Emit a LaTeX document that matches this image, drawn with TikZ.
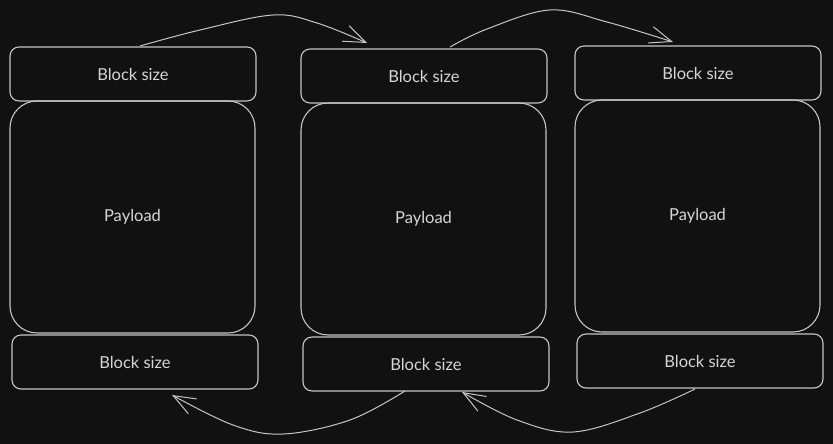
\documentclass[tikz,border=0pt]{standalone}
\usepackage{fontspec}
\setmainfont{Lato}
\usetikzlibrary{arrows.meta}
\definecolor{bg}{HTML}{111111}
\definecolor{ln}{HTML}{C6C6C6}
\definecolor{tx}{HTML}{D6D6D6}
\begin{document}
\begin{tikzpicture}[x=1pt,y=-1pt,
  txt/.style={text=tx, font=\fontsize{16.5}{19}\selectfont},
  blk/.style={draw=ln, line width=1.1pt, rounded corners=9pt, minimum width=246pt, minimum height=54pt, inner sep=0pt, txt},
  pay/.style={draw=ln, line width=1.1pt, rounded corners=27pt, minimum width=245pt, minimum height=232pt, inner sep=0pt, txt},
  conn/.style={draw=ln, line width=1pt, -{Straight Barb[length=22pt,width=17pt,line width=1pt]}}
]
\fill[bg] (0,0) rectangle (833,444);
\useasboundingbox (0,0) rectangle (833,444);

\node[pay] (p1) at (132.5,217) {Payload};
\node[blk] (t1) at (133,74) {Block size};
\node[blk] (b1) at (135,362) {Block size};

\node[pay] (p2) at (423.5,219) {Payload};
\node[blk] (t2) at (424,76) {Block size};
\node[blk] (b2) at (426,364) {Block size};

\node[pay] (p3) at (697.5,216) {Payload};
\node[blk] (t3) at (698,73) {Block size};
\node[blk] (b3) at (700,361) {Block size};

% top arrow 1
\coordinate (a1s) at (140,46);
\coordinate (a1e) at (367,43);
\draw[conn] plot[smooth, tension=0.6] coordinates {(a1s) (200,30) (273,15) (317,23) (a1e)};
% top arrow 2
\coordinate (a2s) at (450,47);
\coordinate (a2e) at (673,42);
\draw[conn] plot[smooth, tension=0.6] coordinates {(a2s) (487,29) (550,10) (607,22) (a2e)};
% bottom arrow 1
\coordinate (a3s) at (405,391);
\coordinate (a3e) at (172,395);
\draw[conn] plot[smooth, tension=0.6] coordinates {(a3s) (350,420) (283,434) (233,425) (a3e)};
% bottom arrow 2
\coordinate (a4s) at (695,389);
\coordinate (a4e) at (462,392);
\draw[conn] plot[smooth, tension=0.6] coordinates {(a4s) (640,413) (573,432) (517,420) (a4e)};
\end{tikzpicture}
\end{document}
